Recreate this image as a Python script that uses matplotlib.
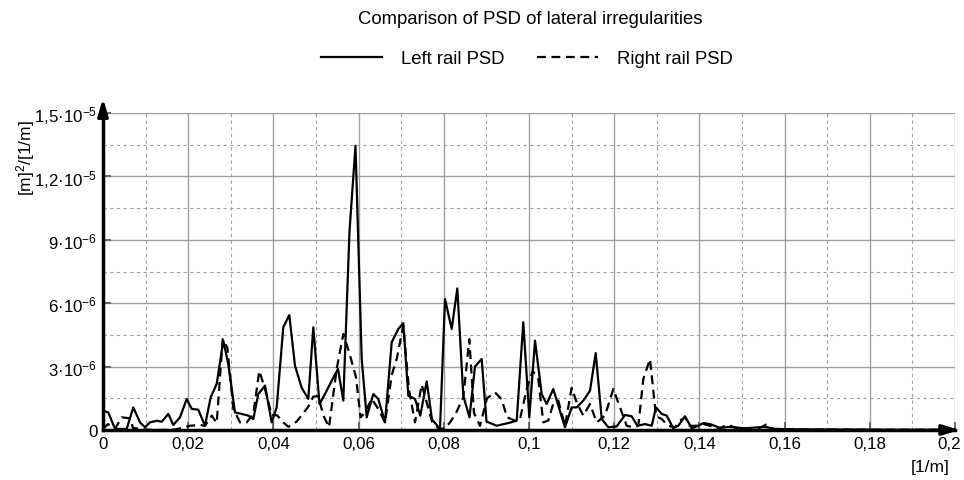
import matplotlib
matplotlib.use("Agg")
import matplotlib.pyplot as plt
from matplotlib.lines import Line2D
import matplotlib.transforms as mtransforms
import numpy as np

plt.rcParams['font.family'] = ['Liberation Sans', 'DejaVu Sans']
plt.rcParams['mathtext.fontset'] = 'custom'
plt.rcParams['mathtext.rm'] = 'Liberation Sans'
plt.rcParams['mathtext.default'] = 'regular'

# ---- data (frequency in 1/m, PSD in 1e-6 m^2/(1/m)) ----
left_f = [0.0001, 0.00124, 0.00282, 0.0042, 0.00556, 0.00711, 0.00869, 0.00986, 0.01103, 0.0126,
          0.01378, 0.01533, 0.0165, 0.01808, 0.01965, 0.02082, 0.02237, 0.02394, 0.02528, 0.02669,
          0.02824, 0.02941, 0.03099, 0.03256, 0.03411, 0.03528, 0.03646, 0.03803, 0.0396, 0.04077,
          0.04232, 0.04373, 0.04507, 0.04664, 0.04819, 0.04937, 0.05082, 0.05211, 0.05369, 0.05516,
          0.05641, 0.05786, 0.05927, 0.06073, 0.0619, 0.06345, 0.06462, 0.0662, 0.06777, 0.06932,
          0.07049, 0.07167, 0.07324, 0.07448, 0.07599, 0.07723, 0.07911, 0.08028, 0.08185, 0.08317,
          0.08458, 0.08603, 0.08732, 0.0889, 0.09002, 0.09242, 0.09554, 0.09711, 0.09866, 0.10007,
          0.10141, 0.10298, 0.10415, 0.1057, 0.10688, 0.10845, 0.11002, 0.1112, 0.11275, 0.11432,
          0.11566, 0.11707, 0.11862, 0.12059, 0.12254, 0.12411, 0.12542, 0.12723, 0.1288, 0.12981,
          0.13115, 0.13232, 0.13387, 0.13505, 0.13662, 0.13819, 0.13974, 0.14092, 0.14249, 0.14484,
          0.14718, 0.1507, 0.1554, 0.15775, 0.16362, 0.17535, 0.1871, 0.2]
left_psd = [0.91, 0.83, 0.05, 0.05, 0.05, 1.07, 0.36, 0.13, 0.36, 0.44,
            0.39, 0.76, 0.24, 0.6, 1.47, 1.0, 0.96, 0.2, 1.55, 2.18,
            4.23, 3.12, 0.83, 0.76, 0.68, 0.52, 1.7, 2.1, 0.36, 1.07,
            4.86, 5.44, 3.04, 2.0, 1.47, 4.86, 1.23, 1.7, 2.33, 2.89,
            1.39, 9.4, 13.45, 3.36, 0.6, 1.7, 1.47, 0.36, 4.15, 4.78,
            5.06, 1.62, 1.47, 0.68, 2.3, 0.5, 0.05, 6.2, 4.78, 6.7,
            1.62, 0.6, 3.0, 3.36, 0.4, 0.2, 0.35, 0.44, 5.1, 0.6,
            4.23, 1.7, 1.23, 1.94, 1.15, 0.13, 1.07, 1.07, 1.39, 1.86,
            3.64, 0.52, 0.13, 0.17, 0.71, 0.65, 0.2, 0.28, 0.2, 1.07,
            0.76, 0.68, 0.08, 0.2, 0.65, 0.08, 0.2, 0.33, 0.28, 0.1,
            0.15, 0.08, 0.15, 0.05, 0.03, 0.02, 0.01, 0.01]

right_f = [0.0, 0.00117, 0.00282, 0.00439, 0.00634, 0.00704, 0.00986, 0.01338, 0.0169, 0.02042,
           0.02277, 0.02394, 0.02552, 0.02669, 0.0281, 0.02918, 0.03059, 0.03216, 0.03373, 0.03528,
           0.03669, 0.03803, 0.0396, 0.04085, 0.04232, 0.0435, 0.04547, 0.04702, 0.04819, 0.04937,
           0.05054, 0.05171, 0.05305, 0.05486, 0.05641, 0.05775, 0.05939, 0.06045, 0.0615, 0.06308,
           0.06462, 0.0662, 0.06777, 0.06894, 0.07049, 0.07183, 0.07324, 0.07481, 0.07599, 0.07723,
           0.07887, 0.08028, 0.08146, 0.08286, 0.08458, 0.08599, 0.08709, 0.0885, 0.09014, 0.09202,
           0.09359, 0.09484, 0.09671, 0.09789, 0.09946, 0.10087, 0.10218, 0.10336, 0.10453, 0.1057,
           0.10688, 0.10845, 0.11002, 0.1112, 0.11275, 0.11432, 0.11589, 0.11784, 0.11979, 0.12136,
           0.12293, 0.12448, 0.12566, 0.12683, 0.1284, 0.12981, 0.13115, 0.1327, 0.13427, 0.13545,
           0.13662, 0.1378, 0.13937, 0.14092, 0.14249, 0.14437, 0.14671, 0.14906, 0.15423, 0.15563,
           0.15704, 0.16362, 0.2]
right_psd = [0.05, 0.28, 0.05, 0.6, 0.55, 0.1, 0.02, 0.0, 0.02, 0.2,
             0.24, 0.2, 0.68, 0.33, 4.3, 3.9, 1.0, 0.36, 0.36, 0.76,
             2.8, 1.94, 0.7, 0.7, 0.36, 0.15, 0.4, 0.8, 1.1, 1.58,
             1.6, 0.7, 0.13, 2.9, 4.54, 3.7, 2.5, 0.6, 0.83, 1.47,
             1.0, 0.36, 2.6, 3.36, 4.93, 1.9, 0.36, 2.15, 1.3, 0.4,
             0.05, 0.08, 0.36, 0.8, 1.55, 4.3, 0.8, 0.2, 1.5, 1.78,
             1.45, 0.6, 0.44, 0.52, 1.94, 2.8, 2.41, 0.36, 0.45, 1.25,
             1.39, 0.2, 2.0, 1.3, 0.68, 1.23, 0.36, 0.68, 1.94, 1.07,
             0.2, 0.13, 0.2, 2.41, 3.36, 0.65, 0.52, 0.2, 0.13, 0.44,
             0.6, 0.2, 0.2, 0.28, 0.2, 0.05, 0.25, 0.05, 0.1, 0.25,
             0.05, 0.02, 0.01]

x_ticks = [0, 0.02, 0.04, 0.06, 0.08, 0.1, 0.12, 0.14, 0.16, 0.18, 0.2]
x_tick_labels = ["0", "0,02", "0,04", "0,06", "0,08", "0,1", "0,12", "0,14", "0,16", "0,18", "0,2"]
y_ticks = [0, 3e-6, 6e-6, 9e-6, 1.2e-5, 1.5e-5]
y_tick_labels = ["0", r"3·10$^{-6}$", r"6·10$^{-6}$", r"9·10$^{-6}$",
                 r"1,2·10$^{-5}$", r"1,5·10$^{-5}$"]

title = "Comparison of PSD of lateral irregularities"
left_label = "Left rail PSD"
right_label = "Right rail PSD"

# ---- figure ----
fig = plt.figure(figsize=(9.64, 4.81), dpi=100)
ax = fig.add_axes([103/964, 1 - 431/481, 852/964, 317/481])

lf = np.array(left_f)
lp = np.array(left_psd) * 1e-6
rf = np.array(right_f)
rp = np.array(right_psd) * 1e-6

ax.plot(lf, lp, color='black', lw=1.6, zorder=3)
ax.plot(rf, rp, color='black', lw=1.6, ls=(0, (4, 2.5)), zorder=3)

ax.set_xlim(0, 0.2)
ax.set_ylim(0, 1.5e-5)
ax.set_xticks(x_ticks)
ax.set_xticklabels(x_tick_labels)
ax.set_yticks(y_ticks)
ax.set_yticklabels(y_tick_labels)
ax.set_xticks(np.arange(0.01, 0.2, 0.02), minor=True)
ax.set_yticks(np.arange(1.5e-6, 1.5e-5, 3e-6), minor=True)

ax.grid(which='major', color='#a0a0a0', lw=1.0, ls='-', zorder=0)
ax.grid(which='minor', color='#a0a0a0', lw=0.8, ls=(0, (3, 3)), zorder=0)
ax.tick_params(which='major', direction='in', length=6, width=1.2, color='#555555',
               labelsize=12.2, pad=4)
ax.tick_params(which='minor', length=0)

# keep the last x label inside the canvas
last = ax.get_xticklabels()[-1]
last.set_transform(last.get_transform() + mtransforms.ScaledTranslation(-6/100, 0, fig.dpi_scale_trans))

for s in ['top', 'right']:
    ax.spines[s].set_visible(False)
for s in ['left', 'bottom']:
    ax.spines[s].set_linewidth(2.5)
    ax.spines[s].set_color('black')
    ax.spines[s].set_zorder(4)

# arrowheads on axes
ax.annotate('', xy=(0, 1.055), xytext=(0, 0.98), xycoords='axes fraction',
            arrowprops=dict(arrowstyle='-|>,head_width=0.3,head_length=1.0', color='black', lw=2.5),
            annotation_clip=False)
ax.annotate('', xy=(1.009, 0), xytext=(0.99, 0), xycoords='axes fraction',
            arrowprops=dict(arrowstyle='-|>,head_width=0.3,head_length=1.0', color='black', lw=2.5),
            annotation_clip=False)

fig.text(26/964, 1 - 158/481, r"[m]$^{2}$/[1/m]", rotation=90, ha='center', va='center', fontsize=12.5)
fig.text(930/964, 1 - 468/481, "[1/m]", ha='center', va='center', fontsize=12.5)
fig.text(530/964, 1 - 20/481, title, ha='center', va='center', fontsize=13.3)

handles = [Line2D([], [], color='black', lw=1.6),
           Line2D([], [], color='black', lw=1.6, ls=(0, (4, 2.5)))]
fig.legend(handles, [left_label, right_label], loc='center', bbox_to_anchor=(527/964, 1 - 60/481),
           ncol=2, frameon=False, fontsize=13.3, handlelength=3.3, columnspacing=1.8,
           handletextpad=1.0, borderpad=0, borderaxespad=0)

fig.savefig("out.png", dpi=100)
